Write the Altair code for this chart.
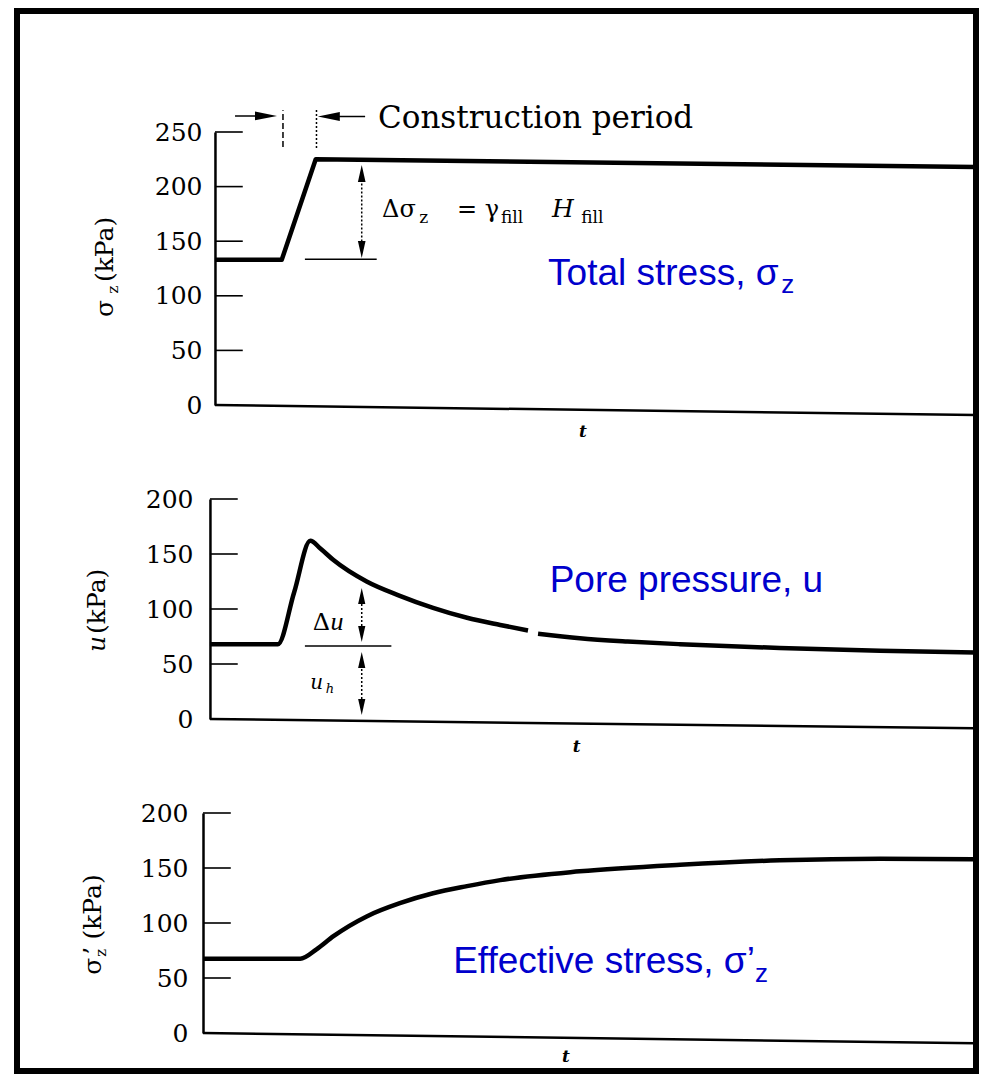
import altair as alt
import pandas as pd

# ---------------- values ----------------
# t is the (unit-less) time axis: 0 at the left edge of the plots, 100 where the slide border cuts them

# Total stress, sigma_z (kPa)
total_t = [1.55, 10.2, 14.6, 100.0]
total_v = [133, 133, 225, 218]

# Pore pressure, u (kPa) - the printed curve has a small gap, hence two pieces
pore_t = [0.9, 9.7, 11.8, 13.9, 15.2, 16.9, 21.2, 25.5, 29.8, 34.2, 38.5, 42.1,
          43.4, 48.8, 55.0, 61.8, 74.7, 87.7, 100.0]
pore_v = [68, 68, 115, 162, 155, 144.5, 125, 112, 101, 92, 85.5, 80.5,
          77.5, 73.5, 70.5, 68, 64.5, 62, 60.5]
pore_piece = ["a", "a", "a", "a", "a", "a", "a", "a", "a", "a", "a", "a",
              "b", "b", "b", "b", "b", "b", "b"]

# Effective stress, sigma'_z (kPa)
eff_t = [0.0, 12.6, 14.7, 16.9, 21.2, 25.5, 29.8, 34.2, 38.5, 48.8, 61.8, 74.7, 87.7, 100.0]
eff_v = [67.5, 67.5, 76, 88, 106, 118, 127, 133.5, 139, 147, 153, 157, 158.5, 158]

# tick labels
ticks_total = [0, 50, 100, 150, 200, 250]
ticks_pore = [0, 50, 100, 150, 200]
ticks_eff = [0, 50, 100, 150, 200]

# where each vertical axis sits on t, and where each printed base line ends (it is skewed)
axis_t = [1.55, 0.9, 0.0]
base_end_t = 100.0
base_end_v = [-9.2, -8.5, -9.4]

# ---- annotations, panel 1 (t, kPa) ----
p1_constr_s, p1_constr_t, p1_constr_v = ["Construction period"], [22.67], [253.7]
p1_eq_s, p1_eq_t, p1_eq_v = ["Δσ", "=", "γ"], [23.2, 32.9, 36.5], [172, 172, 172]
p1_eqsub_s, p1_eqsub_t, p1_eqsub_v = ["z", "fill", "fill"], [28.0, 38.6, 49.0], [166.7, 166.7, 166.7]
p1_eqit_s, p1_eqit_t, p1_eqit_v = ["H"], [45.2], [172]
p1_lab_s, p1_lab_t, p1_lab_v = ["Total stress, σ"], [44.7], [109.9]
p1_labsub_s, p1_labsub_t, p1_labsub_v = ["z"], [74.9], [102.7]
p1_ttl_s, p1_ttl_t, p1_ttl_v = ["σ", "(kPa)"], [-11.66, -11.66], [80.6, 112.6]
p1_ttlsub_s, p1_ttlsub_t, p1_ttlsub_v = ["z"], [-11.0], [102.0]
p1_time_t, p1_time_v = [49.2], [-29.3]
p1_rule_t0 = [4.15, 16.3, 10.36, 14.7, 20.56, 13.2]
p1_rule_t1 = [8.2, 21.0, 10.36, 14.7, 20.56, 22.5]
p1_rule_v0 = [264.7, 264.2, 236.3, 235.3, 142.4, 133.4]
p1_rule_v1 = [264.7, 264.2, 270.0, 272.0, 212.0, 133.4]
p1_rule_st = ["solid", "solid", "dash", "dot", "dot", "solid"]
p1_hhead_t, p1_hhead_v, p1_hhead_d = [8.16, 16.3], [264.7, 264.2], ["right", "left"]
p1_vhead_t, p1_vhead_v, p1_vhead_d = [20.56, 20.56], [212.0, 142.4], ["up", "down"]

# ---- annotations, panel 2 ----
p2_lab_s, p2_lab_t, p2_lab_v = ["Pore pressure, u"], [44.9], [115.5]
p2_delta_s, p2_delta_t, p2_delta_v = ["Δ"], [14.25], [80.9]
p2_du_s, p2_du_t, p2_du_v = ["u"], [16.5], [80.9]
p2_uh_s, p2_uh_t, p2_uh_v = ["u"], [13.9], [27.3]
p2_uhsub_s, p2_uhsub_t, p2_uhsub_v = ["h"], [15.9], [24.0]
p2_ttlit_s, p2_ttlit_t, p2_ttlit_v = ["u"], [-12.7], [60.9]
p2_ttl_s, p2_ttl_t, p2_ttl_v = ["(kPa)"], [-12.7], [77.3]
p2_time_t, p2_time_v = [48.4], [-30.0]
p2_rule_t0 = [20.56, 20.56, 13.2]
p2_rule_t1 = [20.56, 20.56, 24.4]
p2_rule_v0 = [77.3, 10.9, 66.4]
p2_rule_v1 = [111.8, 53.6, 66.4]
p2_rule_st = ["dot", "dot", "solid"]
p2_head_t = [20.56, 20.56, 20.56, 20.56]
p2_head_v = [111.8, 77.3, 53.6, 10.9]
p2_head_d = ["up", "down", "up", "down"]

# ---- annotations, panel 3 ----
p3_lab_s, p3_lab_t, p3_lab_v = ["Effective stress, σ\u2019"], [32.4], [54.8]
p3_labsub_s, p3_labsub_t, p3_labsub_v = ["z"], [71.5], [46.8]
p3_ttl_s, p3_ttl_t, p3_ttl_v = ["σ", "\u2019", "(kPa)"], [-13.2, -13.2, -13.2], [53.0, 71.2, 84.9]
p3_ttlsub_s, p3_ttlsub_t, p3_ttlsub_v = ["z"], [-12.56], [69.4]
p3_time_t, p3_time_v = [47.0], [-26.5]

# ---------------- drawing ----------------
SERIF = "DejaVu Serif"
TIMES = "Liberation Serif"
SANS = "Liberation Sans"
BLUE = "#0000cc"
W = 772
PX_PER_T = W / 100.0
TICK_LEN = 3.6
one = pd.DataFrame({"k": [0]})

XS = alt.Scale(domain=[0, 100], nice=False, zero=False)


def X(f):
    return alt.X(f"{f}:Q", scale=XS, axis=None)


def Yq(f, ys):
    sc, ax = ys
    return alt.Y(f"{f}:Q", scale=sc, axis=ax)


def y_axis(vals, at_t, pad):
    return alt.Axis(values=vals, offset=-at_t * PX_PER_T, ticks=False, tickSize=0,
                    grid=False, domainColor="black", domainWidth=2.5, zindex=1,
                    labelFont=SERIF, labelFontSize=25, labelColor="black",
                    labelPadding=pad, labelOverlap=False, title=None)


def curve(t, v, ys, piece=None, interp="linear"):
    d = {"t": t, "v": v}
    enc = dict(x=X("t"), y=Yq("v", ys))
    if piece is not None:
        d["piece"] = piece
        enc["detail"] = alt.Detail("piece:N")
    return alt.Chart(pd.DataFrame(d)).mark_line(
        color="black", strokeWidth=4.5, strokeJoin="round", interpolate=interp).encode(**enc)


def texts(s, t, v, ys, **kw):
    base = dict(align="left", baseline="alphabetic", color="black")
    base.update(kw)
    df = pd.DataFrame({"s": s, "t": t, "v": v})
    return alt.Chart(df).mark_text(**base).encode(x=X("t"), y=Yq("v", ys), text="s:N")


def inward_ticks(vals, at_t, ys):
    v = [x for x in vals if x > 0]
    df = pd.DataFrame({"v": v, "t0": [at_t] * len(v), "t1": [at_t + TICK_LEN] * len(v)})
    return alt.Chart(df).mark_rule(color="black", strokeWidth=1.6).encode(
        x=X("t0"), x2=alt.X2("t1"), y=Yq("v", ys))


def base_line(at_t, end_v, ys):
    df = pd.DataFrame({"t0": [at_t], "t1": [base_end_t], "v0": [0.0], "v1": [end_v]})
    return alt.Chart(df).mark_rule(color="black", strokeWidth=2.5).encode(
        x=X("t0"), x2=alt.X2("t1"), y=Yq("v0", ys), y2=alt.Y2("v1"))


DASH = alt.Scale(domain=["solid", "dash", "dot"], range=[[1, 0], [6, 3], [2, 2]])


def guide_rules(t0, t1, v0, v1, st, ys):
    df = pd.DataFrame({"t0": t0, "t1": t1, "v0": v0, "v1": v1, "st": st})
    return alt.Chart(df).mark_rule(color="black", strokeWidth=1.5).encode(
        x=X("t0"), x2=alt.X2("t1"), y=Yq("v0", ys), y2=alt.Y2("v1"),
        strokeDash=alt.StrokeDash("st:N", scale=DASH, legend=None))


HEAD = {
    "up": "M-0.45,1L0,-1L0.45,1Z",
    "down": "M-0.45,-1L0,1L0.45,-1Z",
    "left": "M1,-0.4L-1,0L1,0.4Z",
    "right": "M-1,-0.4L1,0L-1,0.4Z",
}
HEAD_SCALE = alt.Scale(domain=list(HEAD.keys()), range=list(HEAD.values()))


def heads(t, v, d, ys, size):
    df = pd.DataFrame({"t": t, "v": v, "d": d})
    return alt.Chart(df).mark_point(filled=True, color="black", opacity=1, size=size).encode(
        x=X("t"), y=Yq("v", ys), shape=alt.Shape("d:N", scale=HEAD_SCALE, legend=None))


def bar(x0, x1, y0, y1):
    return alt.Chart(one).mark_rect(color="black").encode(
        x=alt.value(x0), x2=alt.value(x1), y=alt.value(y0), y2=alt.value(y1))


# slide frame (decoration), positioned relative to the first plot
frame = [
    bar(-189, 776, -124, -118),
    bar(-189, 776, 936, 942),
    bar(-189, -183, -124, 942),
    bar(770, 776, -124, 942),
]

# ---- panel 1 ----
Y1 = (alt.Scale(domain=[0, 250], nice=False, zero=False), y_axis(ticks_total, axis_t[0], 13))
p1 = alt.layer(
    *frame,
    inward_ticks(ticks_total, axis_t[0], Y1),
    base_line(axis_t[0], base_end_v[0], Y1),
    guide_rules(p1_rule_t0, p1_rule_t1, p1_rule_v0, p1_rule_v1, p1_rule_st, Y1),
    heads(p1_hhead_t, p1_hhead_v, p1_hhead_d, Y1, 484),
    heads(p1_vhead_t, p1_vhead_v, p1_vhead_d, Y1, 289),
    curve(total_t, total_v, Y1),
    texts(p1_constr_s, p1_constr_t, p1_constr_v, Y1, font=SERIF, fontSize=31),
    texts(p1_eq_s, p1_eq_t, p1_eq_v, Y1, font=SERIF, fontSize=24),
    texts(p1_eqsub_s, p1_eqsub_t, p1_eqsub_v, Y1, font=SERIF, fontSize=17),
    texts(p1_eqit_s, p1_eqit_t, p1_eqit_v, Y1, font=SERIF, fontSize=25, fontStyle="italic"),
    texts(p1_lab_s, p1_lab_t, p1_lab_v, Y1, font=SANS, fontSize=37, color=BLUE),
    texts(p1_labsub_s, p1_labsub_t, p1_labsub_v, Y1, font=SANS, fontSize=26, color=BLUE),
    texts(p1_ttl_s, p1_ttl_t, p1_ttl_v, Y1, font=SERIF, fontSize=25, angle=270),
    texts(p1_ttlsub_s, p1_ttlsub_t, p1_ttlsub_v, Y1, font=SERIF, fontSize=15, angle=270),
    texts(["t"], p1_time_t, p1_time_v, Y1, font=SERIF, fontSize=17, fontStyle="italic",
          fontWeight="bold", align="center"),
).properties(width=W, height=273)

# ---- panel 2 ----
Y2 = (alt.Scale(domain=[0, 200], nice=False, zero=False), y_axis(ticks_pore, axis_t[1], 17))
p2 = alt.layer(
    inward_ticks(ticks_pore, axis_t[1], Y2),
    base_line(axis_t[1], base_end_v[1], Y2),
    guide_rules(p2_rule_t0, p2_rule_t1, p2_rule_v0, p2_rule_v1, p2_rule_st, Y2),
    heads(p2_head_t, p2_head_v, p2_head_d, Y2, 256),
    curve(pore_t, pore_v, Y2, pore_piece, "monotone"),
    texts(p2_lab_s, p2_lab_t, p2_lab_v, Y2, font=SANS, fontSize=37, color=BLUE),
    texts(p2_delta_s, p2_delta_t, p2_delta_v, Y2, font=TIMES, fontSize=26),
    texts(p2_du_s, p2_du_t, p2_du_v, Y2, font=TIMES, fontSize=26, fontStyle="italic"),
    texts(p2_uh_s, p2_uh_t, p2_uh_v, Y2, font=SERIF, fontSize=20, fontStyle="italic"),
    texts(p2_uhsub_s, p2_uhsub_t, p2_uhsub_v, Y2, font=SERIF, fontSize=13, fontStyle="italic"),
    texts(p2_ttlit_s, p2_ttlit_t, p2_ttlit_v, Y2, font=SERIF, fontSize=25, angle=270,
          fontStyle="italic"),
    texts(p2_ttl_s, p2_ttl_t, p2_ttl_v, Y2, font=SERIF, fontSize=25, angle=270),
    texts(["t"], p2_time_t, p2_time_v, Y2, font=SERIF, fontSize=17, fontStyle="italic",
          fontWeight="bold", align="center"),
).properties(width=W, height=220)

# ---- panel 3 ----
Y3 = (alt.Scale(domain=[0, 200], nice=False, zero=False), y_axis(ticks_eff, axis_t[2], 15))
p3 = alt.layer(
    inward_ticks(ticks_eff, axis_t[2], Y3),
    base_line(axis_t[2], base_end_v[2], Y3),
    curve(eff_t, eff_v, Y3, None, "monotone"),
    texts(p3_lab_s, p3_lab_t, p3_lab_v, Y3, font=SANS, fontSize=37, color=BLUE),
    texts(p3_labsub_s, p3_labsub_t, p3_labsub_v, Y3, font=SANS, fontSize=26, color=BLUE),
    texts(p3_ttl_s, p3_ttl_t, p3_ttl_v, Y3, font=SERIF, fontSize=25, angle=270),
    texts(p3_ttlsub_s, p3_ttlsub_t, p3_ttlsub_v, Y3, font=SERIF, fontSize=15, angle=270),
    texts(["t"], p3_time_t, p3_time_v, Y3, font=SERIF, fontSize=17, fontStyle="italic",
          fontWeight="bold", align="center"),
).properties(width=W, height=220)

chart = alt.vconcat(p1, p2, p3, spacing=94, bounds="flush").properties(
    padding={"left": 6, "top": 0, "right": 0, "bottom": 0}
).configure_view(strokeWidth=0)

chart.save("out.html", embed_options={"renderer": "svg", "actions": False})
